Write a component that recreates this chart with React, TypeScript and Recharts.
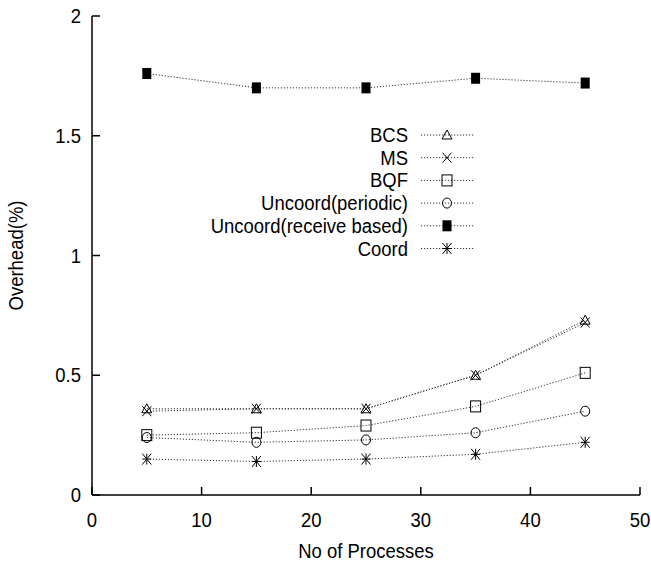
import React from 'react';
import { LineChart, Line, XAxis, YAxis, Legend } from 'recharts';

// x values (number of processes) and overhead % per scheme
const processes = [5, 15, 25, 35, 45];
const bcs = [0.36, 0.36, 0.36, 0.5, 0.73];
const ms = [0.35, 0.36, 0.36, 0.5, 0.72];
const bqf = [0.25, 0.26, 0.29, 0.37, 0.51];
const periodic = [0.24, 0.22, 0.23, 0.26, 0.35];
const receiveBased = [1.76, 1.7, 1.7, 1.74, 1.72];
const coord = [0.15, 0.14, 0.15, 0.17, 0.22];

const xTicks = [0, 10, 20, 30, 40, 50];
const yTicks = [0, 0.5, 1, 1.5, 2];

const seriesList = [
  { key: 'bcs', name: 'BCS', shape: 'triangle' },
  { key: 'ms', name: 'MS', shape: 'cross' },
  { key: 'bqf', name: 'BQF', shape: 'square' },
  { key: 'periodic', name: 'Uncoord(periodic)', shape: 'circle' },
  { key: 'receiveBased', name: 'Uncoord(receive based)', shape: 'filledSquare' },
  { key: 'coord', name: 'Coord', shape: 'star' },
];

const data = processes.map((p, i) => ({
  x: p,
  bcs: bcs[i],
  ms: ms[i],
  bqf: bqf[i],
  periodic: periodic[i],
  receiveBased: receiveBased[i],
  coord: coord[i],
}));

const FONT = '"Liberation Sans", Arial, Helvetica, sans-serif';
const LINE_COLOR = '#333';
const DASH = '1.2 1.8';

// text is a bit taller than wide in the original, so stretch it vertically
const T = ({ x, y, anchor, rotate, children }: any) => (
  <text
    transform={`translate(${x} ${y})${rotate ? ` rotate(${rotate})` : ''} scale(1 1.1)`}
    textAnchor={anchor}
    fontSize={18.5}
    fontFamily={FONT}
    fill="#000"
  >
    {children}
  </text>
);

const Marker = ({ shape, cx, cy }: { shape: string; cx: number; cy: number }) => {
  const s = { stroke: '#000', strokeWidth: 1, fill: 'none' };
  switch (shape) {
    case 'triangle':
      return <polygon points={`${cx},${cy - 5} ${cx - 5},${cy + 4} ${cx + 5},${cy + 4}`} {...s} />;
    case 'cross':
      return (
        <g {...s}>
          <line x1={cx - 4.5} y1={cy - 5} x2={cx + 4.5} y2={cy + 5} />
          <line x1={cx - 4.5} y1={cy + 5} x2={cx + 4.5} y2={cy - 5} />
        </g>
      );
    case 'square':
      return <rect x={cx - 5} y={cy - 5.5} width={10} height={11} {...s} />;
    case 'circle':
      return <ellipse cx={cx} cy={cy} rx={4.5} ry={5} {...s} />;
    case 'filledSquare':
      return <rect x={cx - 4.5} y={cy - 5.5} width={9} height={11} fill="#000" />;
    default:
      return (
        <g {...s}>
          <line x1={cx - 4.5} y1={cy - 5.5} x2={cx + 4.5} y2={cy + 5.5} />
          <line x1={cx - 4.5} y1={cy + 5.5} x2={cx + 4.5} y2={cy - 5.5} />
          <line x1={cx} y1={cy - 5.5} x2={cx} y2={cy + 5.5} />
          <line x1={cx - 4.5} y1={cy} x2={cx + 4.5} y2={cy} />
        </g>
      );
  }
};

const BottomTick = (props: any) => {
  const { x, y, payload } = props;
  return (
    <g>
      <line x1={x} y1={y} x2={x} y2={y - 8} stroke="#000" strokeWidth={1.5} />
      <T x={x} y={y + 32} anchor="middle">{payload.value}</T>
    </g>
  );
};

const TopTick = (props: any) => {
  const { x, y } = props;
  return <line x1={x} y1={y} x2={x} y2={y + 8} stroke="#000" strokeWidth={1.5} />;
};

const LeftTick = (props: any) => {
  const { x, y, payload } = props;
  return (
    <g>
      <line x1={x} y1={y} x2={x + 8} y2={y} stroke="#000" strokeWidth={1.5} />
      <T x={x - 11} y={y + 7} anchor="end">{payload.value}</T>
    </g>
  );
};

const RightTick = (props: any) => {
  const { x, y } = props;
  return <line x1={x} y1={y} x2={x - 8} y2={y} stroke="#000" strokeWidth={1.5} />;
};

const YTitle = (props: any) => {
  const { x, y, height } = props.viewBox;
  return (
    <T x={x + 23} y={y + height / 2} anchor="middle" rotate={-90}>
      Overhead(%)
    </T>
  );
};

const XTitle = (props: any) => {
  const { x, y, width } = props.viewBox;
  return (
    <T x={x + width / 2} y={y + 63} anchor="middle">
      No of Processes
    </T>
  );
};

const LegendBox = () => (
  <svg width={290} height={140} style={{ display: 'block' }}>
    {seriesList.map((s, i) => {
      const cy = 13 + i * 22.7;
      return (
        <g key={s.key}>
          <T x={208} y={cy + 7} anchor="end">{s.name}</T>
          <line x1={221} y1={cy} x2={275} y2={cy} stroke={LINE_COLOR} strokeDasharray={DASH} />
          <Marker shape={s.shape} cx={247} cy={cy} />
        </g>
      );
    })}
  </svg>
);

export default function App() {
  return (
    <div style={{ position: 'absolute', left: 0, top: 0, width: 651, height: 565, background: '#fff' }}>
      <LineChart width={651} height={565} data={data} margin={{ top: 16, right: 11, bottom: 0, left: 0 }}>
        <XAxis
          xAxisId="bottom"
          dataKey="x"
          type="number"
          domain={[0, 50]}
          ticks={xTicks}
          height={70}
          tickSize={0}
          tickMargin={0}
          tickLine={false}
          axisLine={{ stroke: '#000', strokeWidth: 1.5 }}
          tick={<BottomTick />}
          label={<XTitle />}
        />
        <XAxis
          xAxisId="top"
          orientation="top"
          dataKey="x"
          type="number"
          domain={[0, 50]}
          ticks={xTicks}
          height={0}
          tickSize={0}
          tickMargin={0}
          tickLine={false}
          axisLine={{ stroke: '#000', strokeWidth: 1.5 }}
          tick={<TopTick />}
        />
        <YAxis
          yAxisId="left"
          type="number"
          domain={[0, 2]}
          ticks={yTicks}
          width={92}
          tickSize={0}
          tickMargin={0}
          tickLine={false}
          axisLine={{ stroke: '#000', strokeWidth: 1.5 }}
          tick={<LeftTick />}
          label={<YTitle />}
        />
        <YAxis
          yAxisId="right"
          orientation="right"
          type="number"
          domain={[0, 2]}
          ticks={yTicks}
          width={0}
          tickSize={0}
          tickMargin={0}
          tickLine={false}
          axisLine={{ stroke: '#000', strokeWidth: 1.5 }}
          tick={<RightTick />}
        />
        <Legend
          layout="horizontal"
          verticalAlign="middle"
          align="center"
          wrapperStyle={{ left: 200, top: 122, width: 290, height: 140 }}
          content={() => <LegendBox />}
        />
        {seriesList.map((s) => (
          <Line
            key={s.key}
            xAxisId="bottom"
            yAxisId="left"
            dataKey={s.key}
            name={s.name}
            type="linear"
            stroke={LINE_COLOR}
            strokeWidth={1}
            strokeDasharray={DASH}
            isAnimationActive={false}
            activeDot={false}
            dot={(p: any) => <Marker key={`${s.key}-${p.index}`} shape={s.shape} cx={p.cx} cy={p.cy} />}
          />
        ))}
      </LineChart>
    </div>
  );
}
